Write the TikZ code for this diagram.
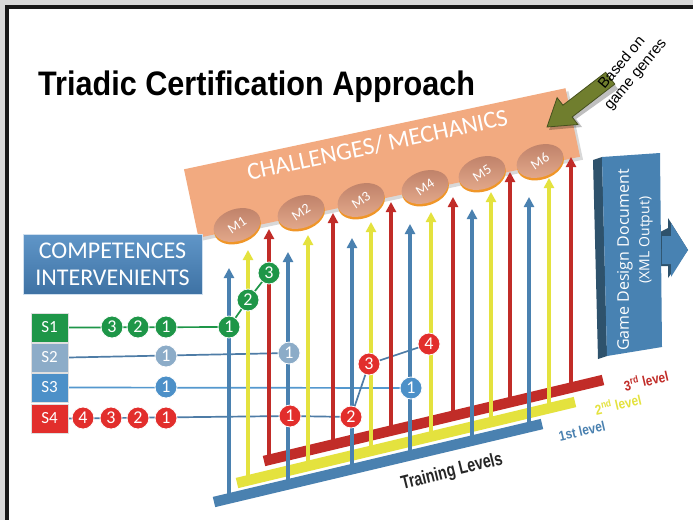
\documentclass[tikz,border=0pt]{standalone}
\usepackage{fontspec}
\setmainfont{Liberation Sans}
\newfontfamily\calfont{Carlito}
\newfontfamily\osfont{Open Sans}
\usetikzlibrary{arrows.meta,shapes.geometric,shadows,calc}

\definecolor{lvblue}{RGB}{74,129,176}
\definecolor{lvyellow}{RGB}{228,226,62}
\definecolor{lvred}{RGB}{193,44,40}
\definecolor{sgreen}{RGB}{30,150,72}
\definecolor{sgray}{RGB}{140,172,200}
\definecolor{sblue}{RGB}{76,144,200}
\definecolor{sred}{RGB}{226,46,44}
\definecolor{lineA}{RGB}{78,124,166}
\definecolor{lineB}{RGB}{84,152,206}
\definecolor{bannerfill}{RGB}{242,170,128}
\definecolor{olivefill}{RGB}{112,126,46}
\definecolor{olivedark}{RGB}{70,80,30}
\definecolor{gddblue}{RGB}{72,130,178}
\definecolor{gdddark}{RGB}{46,82,108}
\definecolor{badgetop}{RGB}{190,128,104}
\definecolor{badgemid}{RGB}{228,170,140}
\definecolor{badgerim}{RGB}{240,150,40}
\definecolor{compA}{RGB}{96,150,200}
\definecolor{compB}{RGB}{62,114,164}

\pgfdeclarelayer{bg}
\pgfdeclarelayer{wires}
\pgfdeclarelayer{levels}
\pgfsetlayers{bg,wires,levels,main}

\begin{document}
\begin{tikzpicture}[x=1pt,y=-1pt,
  lvarrow/.style={line width=3.4pt,-{Triangle[length=10pt,width=10pt]}},
  lvbar/.style={line width=10.5pt},
  sbox/.style={draw=white!75!gray, line width=0.8pt, minimum width=37pt,
    minimum height=29pt, inner sep=0pt, text=white,
    font=\calfont\fontsize{17}{17}\selectfont},
  dot/.style={circle, draw=white, line width=0.8pt, minimum size=22pt,
    inner sep=0pt, text=white, font=\calfont\fontsize{18}{18}\selectfont},
  wire/.style={line width=1.7pt},
  badge/.style={ellipse, rotate=18, minimum width=48pt, minimum height=32pt,
    inner sep=0pt, top color=badgetop, bottom color=badgemid},
  badgerimstyle/.style={ellipse, rotate=18, minimum width=48pt, minimum height=32pt,
    inner sep=0pt, fill=badgerim},
  badgetext/.style={rotate=34, text=white, font=\calfont\fontsize{14}{14}\selectfont},
  levellabel/.style={rotate=13, font=\bfseries\fontsize{14}{14}\selectfont},
]
\useasboundingbox (0,0) rectangle (693,520);

\begin{pgfonlayer}{bg}
% page and frame
\fill[white] (0,0) rectangle (693,520);
\fill[black!15] (0,0) rectangle (693,5);
\fill[black!15] (0,0) rectangle (5,520);
\fill[black!90] (5,5) rectangle (693,9);
\fill[black!90] (5,5) rectangle (9,520);

% challenges / mechanics banner
\node[rotate=12, fill=bannerfill, minimum width=390pt, minimum height=70pt,
  drop shadow={shadow xshift=3pt, shadow yshift=-3pt, opacity=0.3}] (banner) at (382,163) {};
\node[rotate=12, anchor=base, text=white, font=\calfont\fontsize{24.5}{24.5}\selectfont]
  (bannertext) at (379,152.5) {CHALLENGES/ MECHANICS};

% training level bars
\coordinate (bbs) at (214,502); \coordinate (bbe) at (542,424);
\coordinate (ybs) at (237,483); \coordinate (ybe) at (575,402);
\coordinate (rbs) at (264,461); \coordinate (rbe) at (603,380);
\draw[lvbar, lvblue] (bbs) -- (bbe);
\draw[lvbar, lvyellow] (ybs) -- (ybe);
\draw[lvbar, lvred] (rbs) -- (rbe);
\end{pgfonlayer}

% title
\node[anchor=base west, inner sep=0pt] (title) at (38,95)
  {\scalebox{0.9}[1]{\fontsize{34}{34}\selectfont\bfseries Triadic Certification Approach}};

% vertical level arrows (x, tip, foot on its bar, colour)
\begin{pgfonlayer}{levels}
\foreach \i/\x/\t/\b/\c in {
  1/229/268/498.4/lvblue, 2/248/250/480.4/lvyellow, 3/269/229/459.8/lvred,
  4/288/252/484.4/lvblue, 5/308/235/466.0/lvyellow, 6/333/213/444.5/lvred,
  7/352/238/469.2/lvblue, 8/371/222/450.9/lvyellow, 9/391/202/430.7/lvred,
  10/410/224/455.4/lvblue, 11/431/212/436.5/lvyellow, 12/453/197/415.8/lvred,
  13/472/209/440.6/lvblue, 14/491/192/422.1/lvyellow, 15/510/172/402.2/lvred,
  16/529/197/427.1/lvblue, 17/549/178/408.2/lvyellow, 18/571/157/387.7/lvred}{
  \coordinate (foot\i) at (\x,\b);
  \coordinate (tip\i) at (\x,\t);
  \draw[lvarrow, \c] (foot\i) -- (tip\i);
}
\end{pgfonlayer}

% mechanic badges
\foreach \n/\x/\y in {1/237/225, 2/301/212, 3/361/200, 4/425/187, 5/482/173, 6/540/161}{
  \node[badgerimstyle] (rim\n) at (\x+0.5,\y+2.5) {};
  \node[badge] (M\n) at (\x,\y) {};
  \node[badgetext] (Mt\n) at (M\n) {M\n};
}

% competences header
\node[draw=white!70!compA, line width=0.8pt, top color=compA, bottom color=compB,
  minimum width=179pt, minimum height=60pt, inner sep=0pt, text=white, align=center,
  font=\calfont\fontsize{24}{27}\selectfont] (comp) at (112.5,264)
  {COMPETENCES\\INTERVENIENTS};

% stakeholder boxes
\node[sbox, fill=sgreen] (S1) at (49.5,327.5) {S1};
\node[sbox, fill=sgray]  (S2) at (49.5,357.5) {S2};
\node[sbox, fill=sblue]  (S3) at (49.5,387.5) {S3};
\node[sbox, fill=sred]   (S4) at (49.5,418.5) {S4};

% competence steps
\node[dot, fill=sgreen] (g3) at (112,327) {3};
\node[dot, fill=sgreen] (g2) at (138,327) {2};
\node[dot, fill=sgreen] (g1) at (166,327) {1};
\node[dot, fill=sgreen] (ga) at (229,327) {1};
\node[dot, fill=sgreen] (gb) at (248,300) {2};
\node[dot, fill=sgreen] (gc) at (269,273) {3};

\node[dot, fill=sgray] (l1) at (166,356) {1};
\node[dot, fill=sgray] (la) at (289,353) {1};

\node[dot, fill=sblue] (m1) at (166,387) {1};
\node[dot, fill=sblue] (ma) at (411,388) {1};

\node[dot, fill=sred] (r4) at (83,418) {4};
\node[dot, fill=sred] (r3) at (111,418) {3};
\node[dot, fill=sred] (r2) at (138,418) {2};
\node[dot, fill=sred] (r1) at (166,418) {1};
\node[dot, fill=sred] (ra) at (290,416) {1};
\node[dot, fill=sred] (rb) at (351,417) {2};
\node[dot, fill=sred] (rc) at (369,364) {3};
\node[dot, fill=sred] (rd) at (429,344) {4};

% connectors between steps
\begin{pgfonlayer}{wires}
\draw[wire, sgreen] (S1.east) -- (ga.center) -- (gb.center) -- (gc.center);
\draw[wire, lineA] (S2.east) -- (la.center);
\draw[wire, lineB] (S3.east) -- (ma.center);
\draw[wire, lineA] (S4.east) -- (ra.center) -- (rb.center) -- (rc.center) -- (rd.center);
\end{pgfonlayer}

% training level captions
\node[levellabel, text=lvred] (lab3) at (646,380) {\scalebox{0.85}[1]{3\textsuperscript{rd} level}};
\node[levellabel, text=lvyellow] (lab2) at (618,404) {\scalebox{0.85}[1]{2\textsuperscript{nd} level}};
\node[levellabel, text=lvblue] (lab1) at (582,431) {\scalebox{0.85}[1]{1st level}};
\node[rotate=14, font=\bfseries\fontsize{19}{19}\selectfont, text=black!85] (training) at (452,472)
  {\scalebox{0.75}[1]{Training Levels}};

% game design document block
\fill[gdddark] (593,160) -- (602,157) -- (607,356) -- (598,359) -- cycle;
\fill[gdddark] (660,232) -- (668,228) -- (668,218) -- (688,250) -- (668,278) -- (668,266) -- (661,266) -- cycle;
\fill[gddblue] (602,157) -- (660,153) -- (662,347) -- (607,356) -- cycle;
\fill[gddblue] (662,236) -- (671,236) -- (671,223) -- (688,250) -- (671,277) -- (671,264) -- (662,264) -- cycle;
\node[rotate=90, text=white, font=\osfont\fontsize{16}{16}\selectfont] (gdd1) at (625,260) {Game Design Document};
\node[rotate=90, text=white, font=\osfont\fontsize{14}{14}\selectfont] (gdd2) at (646,240) {(XML Output)};

% genre pointer (tip at lower left, tail at upper right)
\fill[black, opacity=0.25] (549,130) -- (560,101) -- (566,108) -- (609,77) -- (618,89) -- (576,119) -- (582,127) -- cycle;
\filldraw[fill=olivefill, draw=olivedark, line width=0.8pt]
  (547,127) -- (557.1,97.7) -- (562.9,105.2) -- (605.6,72.3)
  -- (614.8,84.1) -- (572.1,117.0) -- (577.9,124.5) -- cycle;
\node[rotate=50, align=center, font=\fontsize{15}{18}\selectfont] (genre) at (629,69)
  {Based on\\game genres};
\end{tikzpicture}
\end{document}
